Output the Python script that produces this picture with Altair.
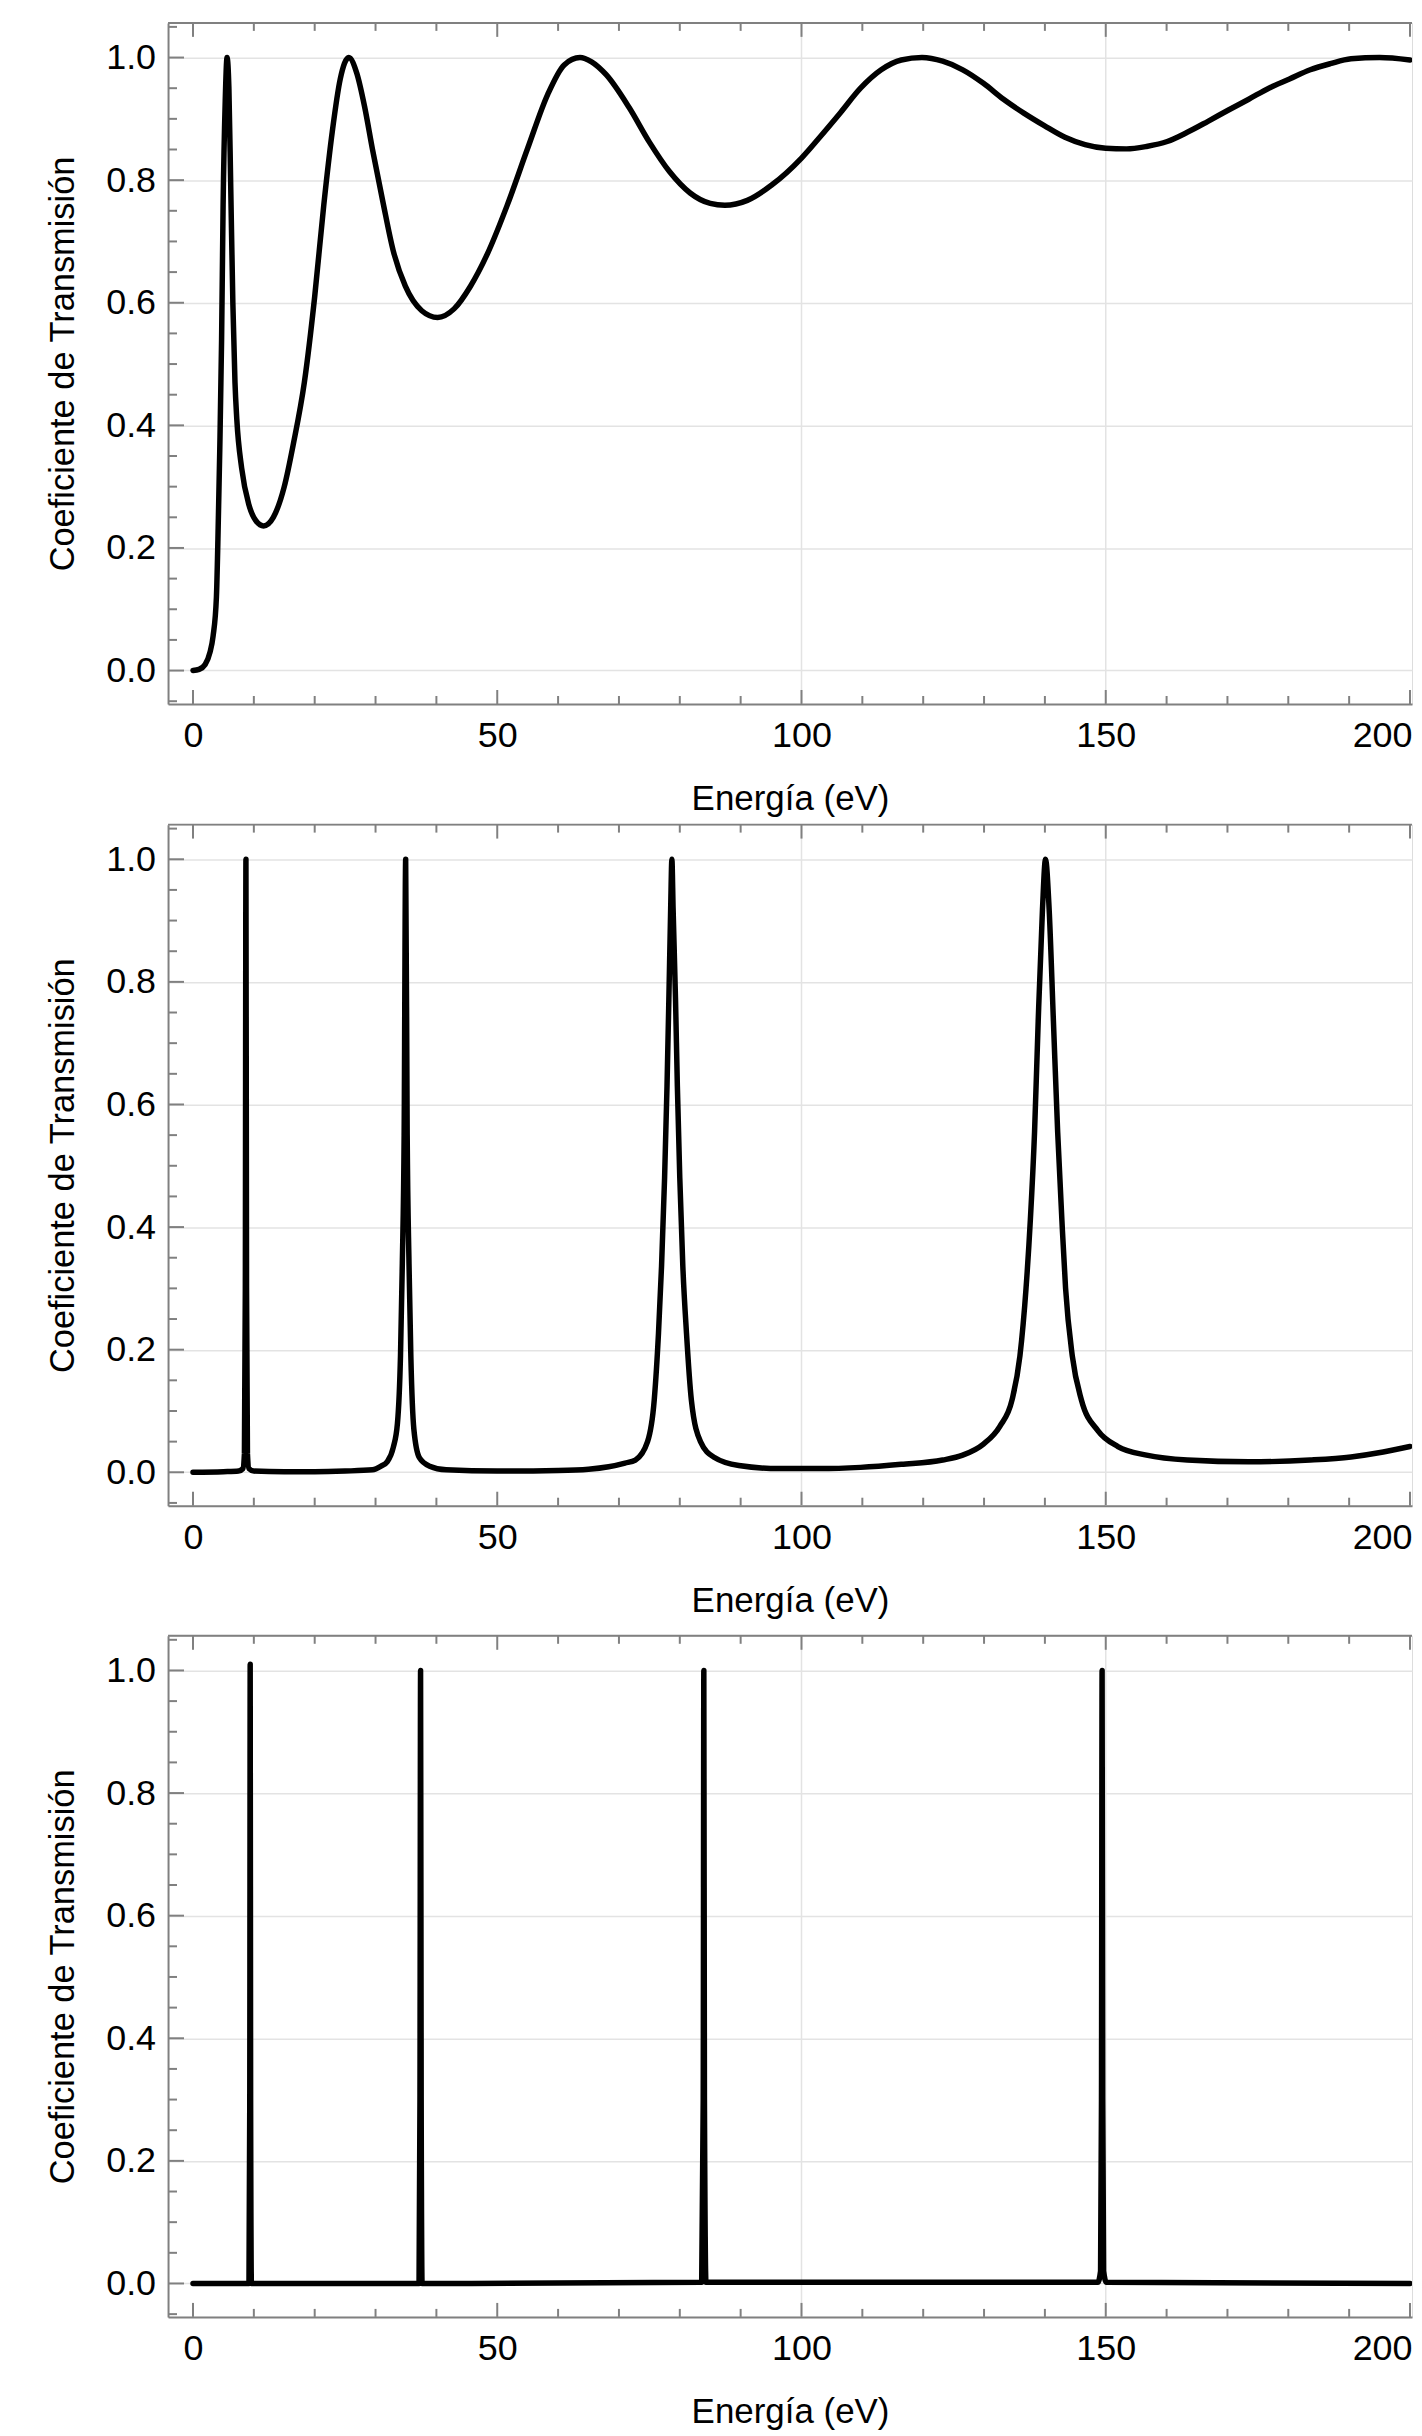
import altair as alt
import pandas as pd

# ---------------- data ----------------
# Panel 1 (top): broad oscillating transmission
E1 = [0, 1.0, 2.0, 2.8, 3.3, 3.85, 4.1, 4.4, 4.7, 4.95,
      5.3, 5.6, 5.9, 6.2, 6.55, 6.9, 7.2, 8.0, 9.2, 10.3,
      11.6, 13.2, 15.0, 16.5, 18.3, 20.0, 21.5, 22.9, 24.2, 25.6,
      26.9, 28.2, 29.5, 31.2, 32.9, 34.9, 37.6, 40.2, 42.9, 45.6,
      48.3, 51.6, 55.0, 58.3, 61.0, 63.6, 65.5, 67.9, 71.7, 75.0,
      78.3, 81.7, 85.0, 87.4, 91.1, 95.1, 100.0, 103.0, 106.4, 109.7,
      113.1, 116.4, 119.8, 123.2, 126.5, 129.9, 133.2, 136.6, 139.9, 143.3,
      146.6, 150.0, 153.4, 156.7, 160.1, 163.4, 166.8, 170.1, 173.5, 176.8,
      180.2, 183.6, 186.9, 190.3, 195.0, 200.0]
T1 = [0.0, 0.002, 0.01, 0.03, 0.056, 0.12, 0.215, 0.36, 0.54, 0.76,
      0.93, 1.0, 0.95, 0.79, 0.6, 0.47, 0.41, 0.33, 0.27, 0.245,
      0.236, 0.25, 0.3, 0.37, 0.47, 0.61, 0.76, 0.88, 0.965, 1.0,
      0.975, 0.92, 0.85, 0.765, 0.685, 0.627, 0.587, 0.576, 0.59, 0.627,
      0.678, 0.758, 0.852, 0.94, 0.988, 1.0, 0.993, 0.972, 0.918, 0.862,
      0.814, 0.779, 0.762, 0.759, 0.767, 0.792, 0.836, 0.87, 0.91, 0.95,
      0.98, 0.996, 1.0, 0.994, 0.98, 0.958, 0.932, 0.909, 0.889, 0.87,
      0.858, 0.852, 0.851, 0.855, 0.863, 0.878, 0.896, 0.914, 0.932, 0.95,
      0.965, 0.98, 0.99, 0.998, 1.0, 0.996]

# Panel 2 (middle): resonance peaks
E2 = [0, 5, 7.5, 8.2, 8.45, 8.6, 8.7, 8.8, 8.95, 9.2,
      10, 15, 20, 25, 29.5, 30.9, 31.9, 32.9, 33.6, 34.1,
      34.4, 34.7, 34.95, 35.2, 35.5, 35.8, 36.3, 37.2, 38.9, 41.6,
      50, 60, 65, 68.3, 71, 72.7, 74.7, 75.8, 76.5, 77.0,
      77.5, 77.9, 78.2, 78.5, 78.7, 78.9, 79.3, 79.6, 80.0, 80.5,
      81.1, 81.9, 83.4, 85.7, 89.7, 96.3, 103, 109.7, 116.4, 123.2,
      126.5, 129.9, 132.6, 134.6, 135.9, 136.9, 137.6, 138.3, 138.9, 139.6,
      140.1, 140.7, 141.4, 142.1, 142.8, 143.4, 144.5, 146.0, 148.7, 152,
      156.7, 163.4, 173.5, 183.6, 190.3, 195.6, 200]
T2 = [0, 0.001, 0.002, 0.006, 0.03, 0.3, 1.0, 0.3, 0.03, 0.006,
      0.002, 0.001, 0.001, 0.002, 0.004, 0.01, 0.017, 0.04, 0.08, 0.19,
      0.34, 0.55, 1.0, 0.55, 0.34, 0.19, 0.07, 0.024, 0.01, 0.004,
      0.002, 0.003, 0.005, 0.009, 0.015, 0.02, 0.05, 0.118, 0.227, 0.336,
      0.48, 0.63, 0.77, 0.92, 1.0, 0.92, 0.77, 0.63, 0.48, 0.336,
      0.227, 0.118, 0.05, 0.024, 0.011, 0.006, 0.006, 0.008, 0.013, 0.02,
      0.028, 0.046, 0.075, 0.118, 0.19, 0.30, 0.41, 0.555, 0.736, 0.918,
      1.0, 0.918, 0.736, 0.555, 0.41, 0.30, 0.19, 0.118, 0.068, 0.042,
      0.028, 0.02, 0.017, 0.02, 0.025, 0.033, 0.042]

# Panel 3 (bottom): very narrow resonances
E3 = [0, 9.2, 9.33, 9.4, 9.47, 9.6, 37.15, 37.3, 37.4, 37.5,
      37.65, 83.6, 83.85, 83.95, 84.05, 84.3, 148.7, 149.15, 149.3, 149.4,
      149.5, 149.65, 150.1, 200]
T3 = [0, 0, 0.3, 1.01, 0.3, 0, 0, 0.3, 1.0, 0.3,
      0, 0.002, 0.3, 1.0, 0.3, 0.002, 0.002, 0.02, 0.3, 1.0,
      0.3, 0.02, 0.002, 0]

X_LABELS = [0, 50, 100, 150, 200]
X_MINOR = [v for v in range(0, 210, 10) if v % 50 != 0]
X_GRID = [100, 150]
Y_LABELS = [0.0, 0.2, 0.4, 0.6, 0.8, 1.0]
Y_MINOR = [round(-0.05 + 0.05 * i, 2) for i in range(23) if i % 4 != 1]
X_TITLE = "Energía (eV)"
Y_TITLE = "Coeficiente de Transmisión"

assert len(E1) == len(T1) and len(E2) == len(T2) and len(E3) == len(T3)

# ---------------- styling ----------------
W, H = 1247.5, 683
XDOM = [-4.1, 200.33]
YDOM = [-0.0545, 1.0565]
FRAME = "#808080"
GRID = "#e3e3e3"
FONT = "Liberation Sans"
XT_MAJ, XT_MIN = 14, 8     # tick lengths (px) on horizontal edges
YT_MAJ, YT_MIN = 16, 9     # tick lengths (px) on the vertical edge

XS = alt.Scale(domain=XDOM, nice=False, zero=False)
YS = alt.Scale(domain=YDOM, nice=False, zero=False)

XAXIS = alt.Axis(
    orient="bottom", values=X_LABELS, format="d", ticks=False,
    domain=True, domainColor=FRAME, domainWidth=2,
    grid=False, labelPadding=15, labelFontSize=36, labelFont=FONT,
    labelColor="black", labelFlush=5, labelFlushOffset=2, labelOverlap=False,
    title=X_TITLE, titleFont=FONT, titleFontSize=35, titleFontWeight="normal",
    titleColor="black", titlePadding=28)
YAXIS = alt.Axis(
    orient="left", values=Y_LABELS, format=".1f", ticks=False,
    domain=True, domainColor=FRAME, domainWidth=2,
    grid=True, gridColor=GRID, gridWidth=1.5, labelPadding=12.5,
    labelFontSize=36, labelFont=FONT, labelColor="black", labelFlush=False,
    labelOverlap=False, title=Y_TITLE, titleFont=FONT, titleFontSize=34.5,
    titleFontWeight="normal", titleColor="black", titlePadding=25)


def X():
    return alt.X("E:Q", scale=XS, axis=XAXIS)


def Y():
    return alt.Y("T:Q", scale=YS, axis=YAXIS)


def panel(E, T):
    curve = alt.Chart(pd.DataFrame({"E": E, "T": T})).mark_line(
        color="black", strokeWidth=5.5, strokeJoin="round", strokeCap="round",
        interpolate="monotone", clip=True
    ).encode(x=X(), y=Y())

    gridx = alt.Chart(pd.DataFrame({"E": X_GRID})).mark_rule(
        color=GRID, strokeWidth=1.5
    ).encode(x=X())

    top_edge = alt.Chart(pd.DataFrame({"E": [0]})).mark_rule(
        color=FRAME, strokeWidth=2
    ).encode(x=alt.value(0), x2=alt.value(W), y=alt.value(0))

    def xticks(vals, length, top):
        y0, y1 = (0, length) if top else (H, H - length)
        return alt.Chart(pd.DataFrame({"E": vals})).mark_rule(
            color=FRAME, strokeWidth=2
        ).encode(x=X(), y=alt.value(y0), y2=alt.value(y1))

    def yticks(vals, length):
        return alt.Chart(pd.DataFrame({"T": vals})).mark_rule(
            color=FRAME, strokeWidth=2
        ).encode(y=Y(), x=alt.value(0), x2=alt.value(length))

    layers = [
        gridx, top_edge,
        xticks(X_LABELS, XT_MAJ, False), xticks(X_MINOR, XT_MIN, False),
        xticks(X_LABELS, XT_MAJ, True), xticks(X_MINOR, XT_MIN, True),
        yticks(Y_LABELS, YT_MAJ), yticks(Y_MINOR, YT_MIN),
        curve,
    ]
    return alt.layer(*layers).properties(width=W, height=H)


p1 = panel(E1, T1)
p2 = panel(E2, T2)
p3 = panel(E3, T3)

chart = alt.vconcat(
    alt.vconcat(p1, p2, spacing=5), p3, spacing=14.5
).properties(
    padding={"left": 36.5, "top": 9.5, "right": 0, "bottom": 0}
).configure_view(
    strokeWidth=0
).configure(
    font=FONT
)

chart.save("out.html", embed_options={"renderer": "svg", "actions": False})
